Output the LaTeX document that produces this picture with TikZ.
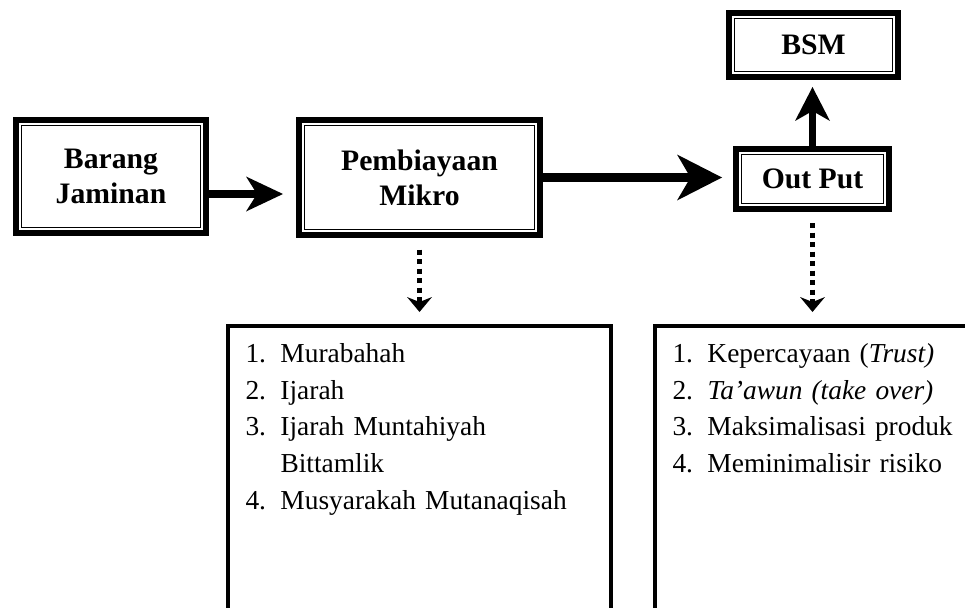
\documentclass[tikz,border=0pt]{standalone}
\usepackage{fontspec}
\setmainfont{Liberation Serif}
\usetikzlibrary{arrows.meta,positioning}
\newcommand{\numitem}[1]{\makebox[0.7cm][l]{#1}}

\begin{document}
\begin{tikzpicture}[x=1cm,y=1cm,
  head/.style={draw,line width=0.7pt,outer sep=0pt,inner sep=2pt,align=center,font=\bfseries\fontsize{16.9}{20}\selectfont},
  frame/.style={line width=0.114cm},
  flow/.style={line width=0.16cm,shorten <=0.17cm},
  dots/.style={line width=0.09cm,dash pattern=on 0.1cm off 0.09cm,shorten <=0.4cm,shorten >=0.28cm,-{Stealth[length=0.3cm,width=0.5cm,inset=0.1cm,line width=0pt]}},
  list/.style={draw,line width=0.08cm,outer sep=0pt,inner sep=0.35cm,align=left,text depth=9cm,font=\fontsize{15.6}{20.9}\selectfont}]
\useasboundingbox (0,0) rectangle (19.3,12.14);
\clip (0,0) rectangle (19.3,12.14);
\node[head,minimum width=3.57cm,minimum height=2.04cm] (barang) at (2.22,8.61) {Barang\\Jaminan};
\node[head,minimum width=4.6cm,minimum height=2.08cm] (mikro) at (8.39,8.59) {Pembiayaan\\Mikro};
\node[head,minimum width=2.84cm,minimum height=0.98cm] (out) at (16.25,8.56) {Out Put};
\node[head,minimum width=3.16cm,minimum height=1.06cm] (bsm) at (16.27,11.24) {BSM};
\foreach \n in {barang,mikro,out,bsm}
  \draw[frame] ([shift={(-0.112cm,-0.112cm)}]\n.south west) rectangle ([shift={(0.112cm,0.112cm)}]\n.north east);
\draw[flow,shorten >=0.43cm,-{Stealth[length=0.74cm,width=0.7cm,inset=0.22cm,line width=0pt]}]
  ([yshift=-0.35cm]barang.east) -- ([yshift=-0.35cm]barang.east -| mikro.west);
\draw[flow,line width=0.18cm,shorten >=0.39cm,-{Stealth[length=0.9cm,width=0.92cm,inset=0.27cm,line width=0pt]}]
  (mikro.east) -- (mikro.east -| out.west);
\draw[flow,line width=0.14cm,shorten >=0.31cm,-{Stealth[length=0.68cm,width=0.7cm,inset=0.2cm,line width=0pt]}]
  (out.north) -- (out.north |- bsm.south);
% daftar akad dan hasil
\node[list,text width=6.96cm,anchor=north] (akad) at (8.39,5.62)
  {\numitem{1.}Murabahah\\
   \numitem{2.}Ijarah\\
   \numitem{3.}Ijarah Muntahiyah\\
   \numitem{}Bittamlik\\
   \numitem{4.}Musyarakah Mutanaqisah};
\node[list,text width=7.3cm,anchor=north west] (hasil) at (13.1,5.62)
  {\numitem{1.}Kepercayaan (\textit{Trust)}\\
   \numitem{2.}\textit{Ta’awun (take over)}\\
   \numitem{3.}Maksimalisasi produk\\
   \numitem{4.}Meminimalisir risiko};
\draw[dots] (mikro.south) -- (akad.north);
\draw[dots,shorten <=0.39cm] (out.south) -- (out.south |- hasil.north);
\end{tikzpicture}
\end{document}
